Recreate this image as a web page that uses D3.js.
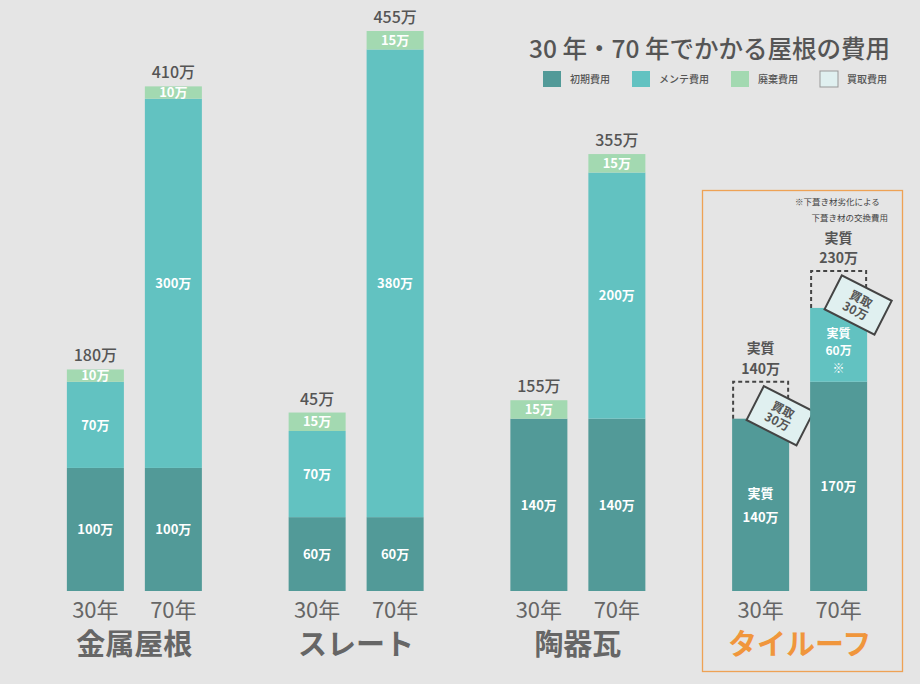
<!DOCTYPE html>
<html><head><meta charset="utf-8">
<script src="https://cdn.jsdelivr.net/npm/d3@7/dist/d3.min.js"></script>
<style>
html,body{margin:0;padding:0;background:#e5e5e5;}
svg{display:block;font-family:"Noto Sans CJK JP","Noto Sans",sans-serif;}
</style></head>
<body>
<script>
// ---- data ----
const groups = ["金属屋根", "スレート", "陶器瓦", "タイルーフ"];
const years = ["30年", "70年"];
const initialCost = [100, 100, 60, 60, 140, 140, 140, 170];
const maintenanceCost = [70, 300, 70, 380, 0, 200, 0, 60];
const disposalCost = [10, 10, 15, 15, 15, 15, 0, 0];
const buybackCost = [0, 0, 0, 0, 0, 0, 30, 30];
const initialLabels = [["100万"], ["100万"], ["60万"], ["60万"], ["140万"], ["140万"], ["実質", "140万"], ["170万"]];
const maintenanceLabels = [["70万"], ["300万"], ["70万"], ["380万"], [], ["200万"], [], ["実質", "60万", "※"]];
const disposalLabels = ["10万", "10万", "15万", "15万", "15万", "15万", "", ""];
const buybackLabels = ["", "", "", "", "", "", "買取|30万", "買取|30万"];
const totalLabels = [["180万"], ["410万"], ["45万"], ["455万"], ["155万"], ["355万"], ["実質", "140万"], ["実質", "230万"]];
const legendNames = ["初期費用", "メンテ費用", "廃棄費用", "買取費用"];
const title = "30 年・70 年でかかる屋根の費用";
const noteLines = ["※下葺き材劣化による", "下葺き材の交換費用"];

const colors = {initial: "#529a98", maint: "#62c2c1", disp: "#a3d9b1", buy: "#e0f0f0"};
const textColor = "#555";
const orange = "#f0963c";

const W = 920, H = 684;
const svg = d3.select("body").append("svg").attr("width", W).attr("height", H);
svg.append("rect").attr("width", W).attr("height", H).attr("fill", "#e5e5e5");

const y = d3.scaleLinear().domain([0, 455]).range([591, 31]);
const xg = d3.scaleBand().domain(groups).range([23.5, 910.5]);
const xi = d3.scaleBand().domain(years).range([xg.bandwidth() / 2 - 67.5, xg.bandwidth() / 2 + 67.5]).paddingInner(0.269);

// build records
const rows = [];
groups.forEach((g, gi) => years.forEach((yr, yi) => {
  const i = gi * 2 + yi;
  rows.push({i, g, yr, x: xg(g) + xi(yr), w: xi.bandwidth(),
    init: initialCost[i], maint: maintenanceCost[i], disp: disposalCost[i], buy: buybackCost[i]});
}));

// tile roof frame
svg.append("rect")
  .attr("x", 702.5).attr("y", 190.5).attr("width", 200).attr("height", 481)
  .attr("fill", "none").attr("stroke", orange).attr("stroke-width", 1.3).attr("opacity", 0.85);

const barG = svg.append("g");
rows.forEach(r => {
  const segs = [
    {k: "init", v: r.init, c: colors.initial, base: 0, lab: initialLabels[r.i]},
    {k: "maint", v: r.maint, c: colors.maint, base: r.init, lab: maintenanceLabels[r.i]},
    {k: "disp", v: r.disp, c: colors.disp, base: r.init + r.maint, lab: [disposalLabels[r.i]]}
  ];
  segs.forEach(s => {
    if (!s.v) return;
    const y0 = y(s.base), y1 = y(s.base + s.v);
    barG.append("rect").attr("x", r.x).attr("y", y1).attr("width", r.w).attr("height", y0 - y1).attr("fill", s.c);
    const n = s.lab.length;
    const cy = (y0 + y1) / 2 + (n === 3 ? 6 : 0);
    const gap = (s.k === "init" && n > 1) ? 24 : 17.5;
    const fs = n === 3 ? 12 : 13;
    s.lab.forEach((t, li) => {
      barG.append("text").attr("x", r.x + r.w / 2).attr("y", cy + (li - (n - 1) / 2) * gap)
        .attr("dy", "0.36em").attr("text-anchor", "middle").attr("fill", "#fff")
        .attr("font-size", fs).attr("font-weight", 700).text(t);
    });
  });
  const top = r.init + r.maint + r.disp;
  let labelTop = y(top);
  if (r.buy) {
    const yb0 = y(top), yb1 = y(top + r.buy);
    labelTop = yb1;
    barG.append("path")
      .attr("d", `M${r.x + 1},${yb0} V${yb1} H${r.x + r.w - 1} V${yb0}`)
      .attr("fill", "none").attr("stroke", "#444").attr("stroke-width", 2).attr("stroke-dasharray", "4,3");
    const cx = r.x + r.w - 9, cyy = yb1 + 34;
    const bg = barG.append("g").attr("transform", `translate(${cx},${cyy}) rotate(27)`);
    bg.append("rect").attr("x", -28).attr("y", -19).attr("width", 56).attr("height", 38)
      .attr("fill", colors.buy).attr("stroke", "#444").attr("stroke-width", 2);
    buybackLabels[r.i].split("|").forEach((t, li) => {
      bg.append("text").attr("x", 0).attr("y", (li - 0.5) * 13).attr("dy", "0.36em")
        .attr("text-anchor", "middle").attr("fill", textColor).attr("font-size", 12).attr("font-weight", 700).text(t);
    });
  }
  const tl = totalLabels[r.i];
  tl.forEach((t, li) => {
    barG.append("text").attr("x", r.x + r.w / 2).attr("y", labelTop - 8 - (tl.length - 1 - li) * 20.5)
      .attr("text-anchor", "middle").attr("fill", textColor)
      .attr("font-size", tl.length > 1 ? 14 : 16).attr("font-weight", tl.length > 1 ? 700 : 500).text(t);
  });
  // year label
  svg.append("text").attr("x", r.x + r.w / 2).attr("y", 618).attr("text-anchor", "middle")
    .attr("fill", "#666").attr("font-size", 22).attr("font-weight", 400).text(r.yr);
});

// group labels
groups.forEach((g, gi) => {
  svg.append("text").attr("x", xg(g) + xg.bandwidth() / 2).attr("y", 655)
    .attr("text-anchor", "middle").attr("fill", gi === 3 ? orange : "#666")
    .attr("font-size", 29).attr("font-weight", 700).text(g);
});

// title
svg.append("text").attr("x", 890).attr("y", 58).attr("text-anchor", "end")
  .attr("fill", textColor).attr("font-size", 24.5).attr("font-weight", 500).text(title);

// legend
const legendColors = [colors.initial, colors.maint, colors.disp, colors.buy];
const legendX = [543, 632, 731, 820];
legendNames.forEach((n, i) => {
  svg.append("rect").attr("x", legendX[i]).attr("y", 71).attr("width", 18).attr("height", 16)
    .attr("fill", legendColors[i]).attr("stroke", i === 3 ? "#999" : "none").attr("stroke-width", 1);
  svg.append("text").attr("x", legendX[i] + 27).attr("y", 83).attr("fill", textColor)
    .attr("font-size", 10).attr("font-weight", 500).text(n);
});

// note
svg.append("text").attr("x", 795).attr("y", 205).attr("fill", "#444").attr("font-size", 8.5).text(noteLines[0]);
svg.append("text").attr("x", 888).attr("y", 221).attr("text-anchor", "end").attr("fill", "#444").attr("font-size", 8.5).text(noteLines[1]);
</script>
</body></html>
